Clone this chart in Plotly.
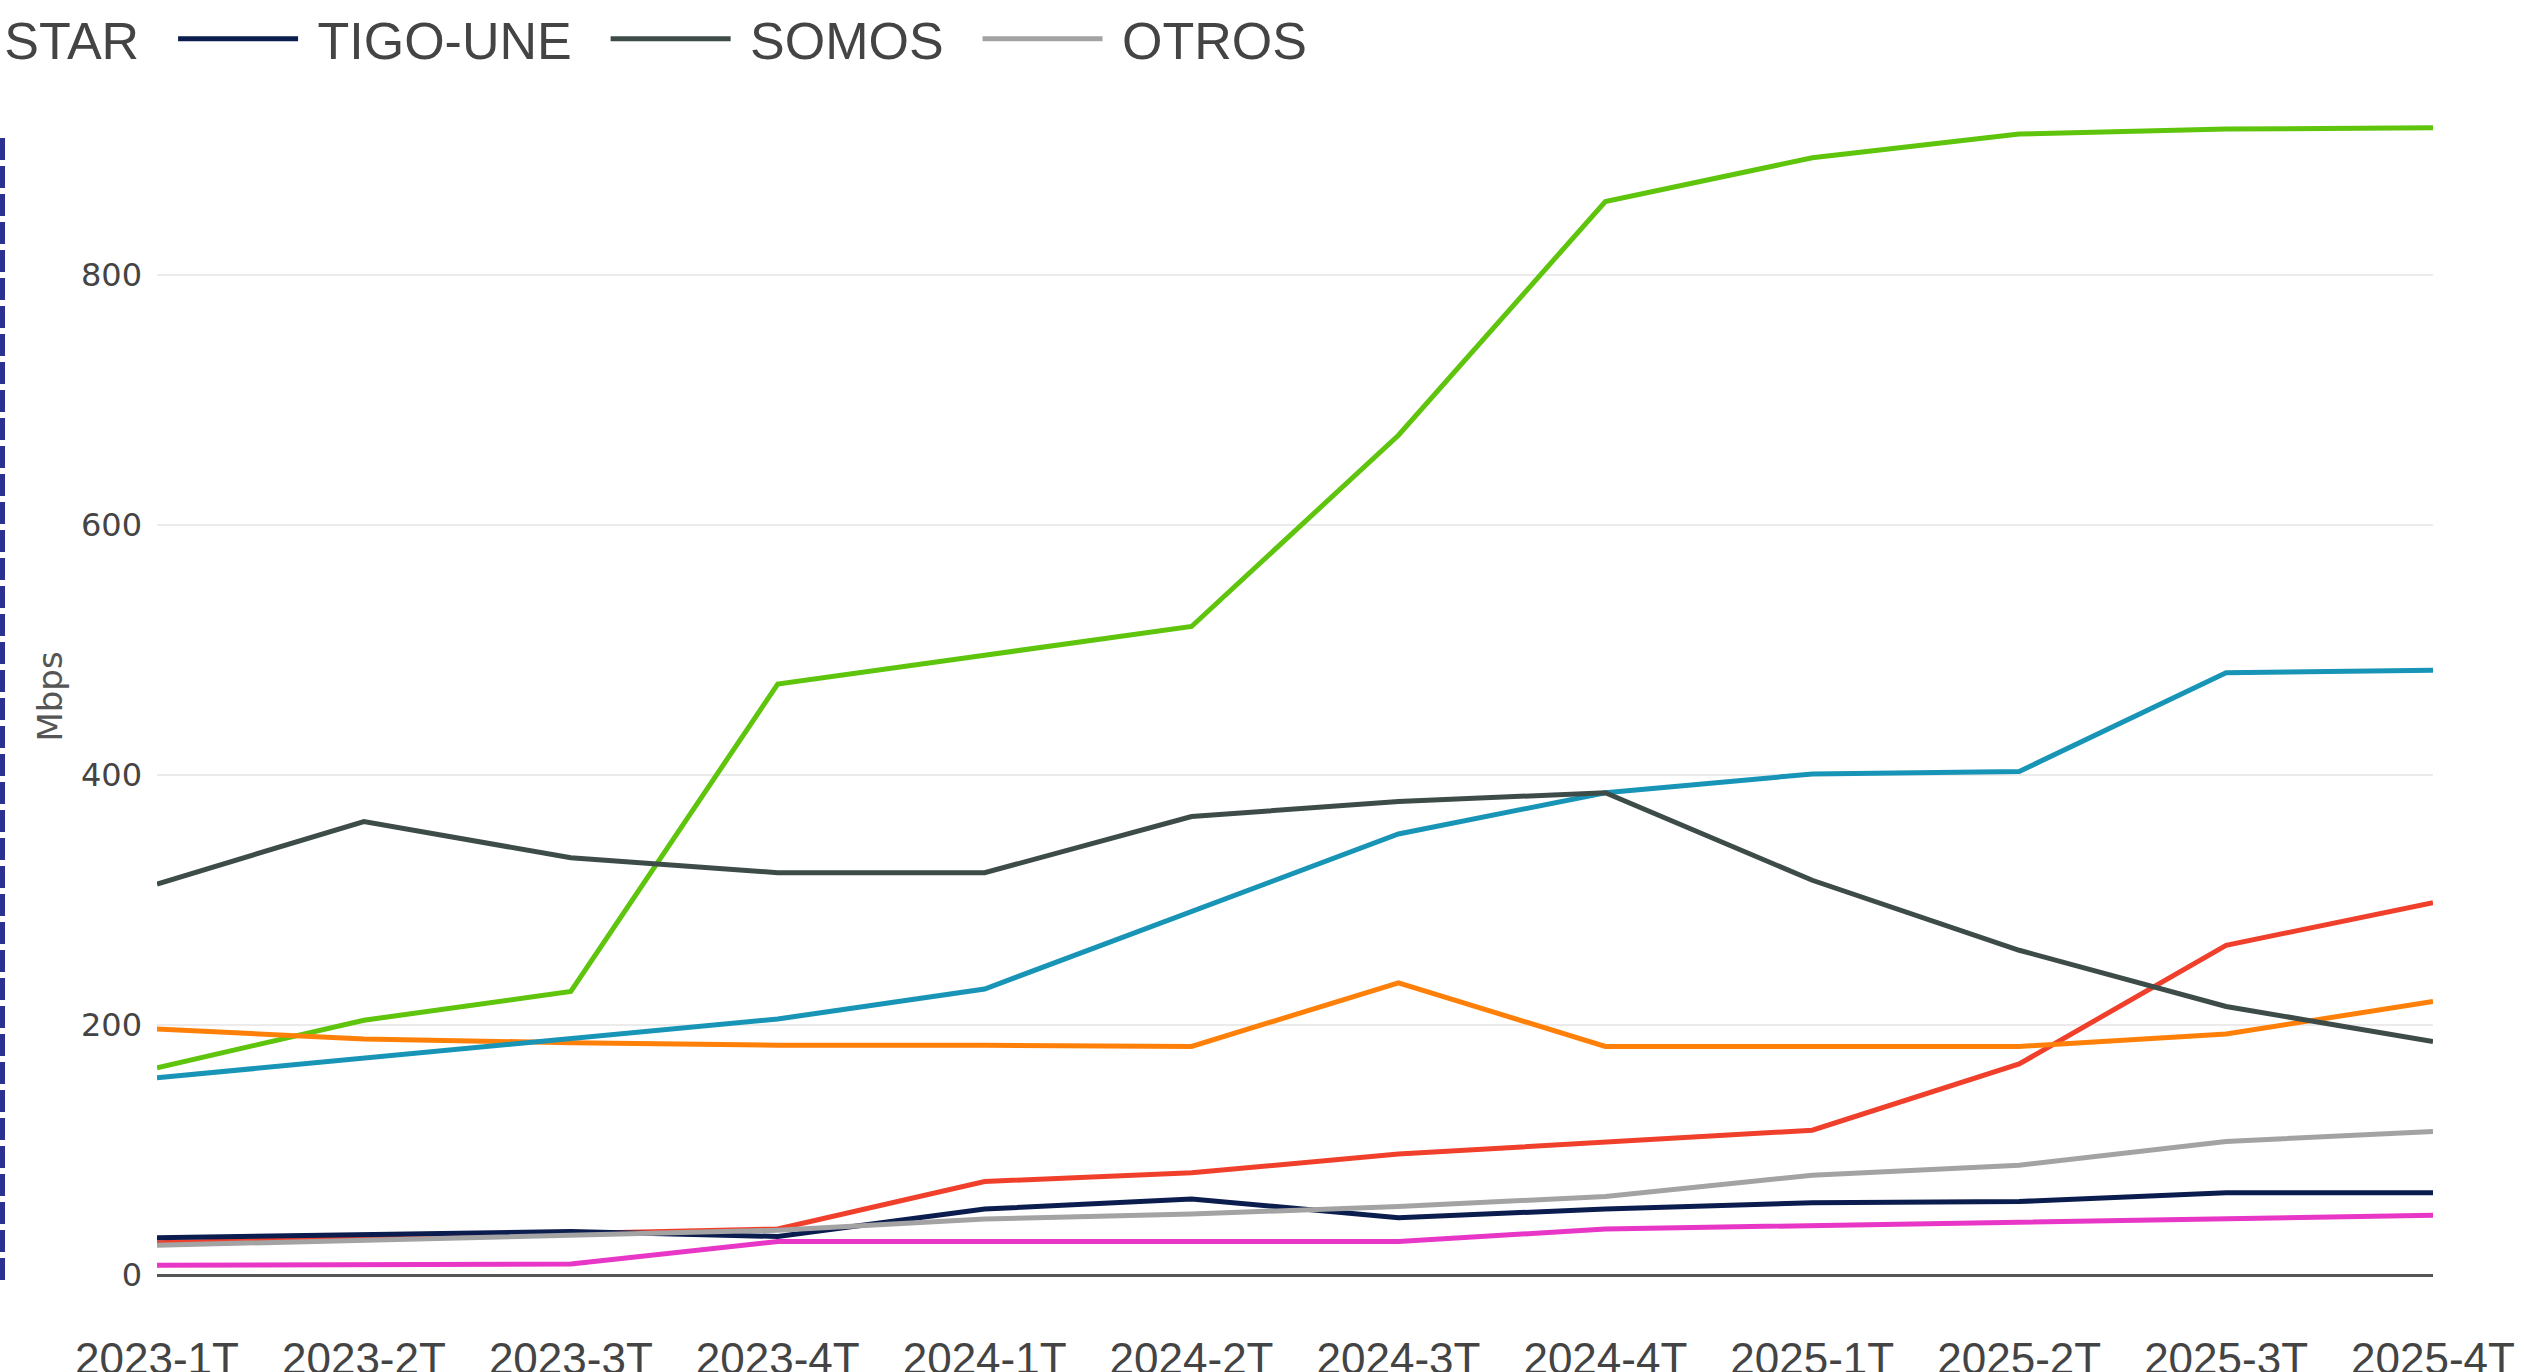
"""
Velocidad de descarga promedio por proveedor (Mbps), 2023-1T a 2025-4T
"""
import plotly.graph_objects as go

trimestres = ['2023-1T', '2023-2T', '2023-3T', '2023-4T', '2024-1T', '2024-2T',
              '2024-3T', '2024-4T', '2025-1T', '2025-2T', '2025-3T', '2025-4T']

claro = [26, 30, 33, 37, 75, 82, 97, 106, 116, 169, 264, 298]
etb = [166, 204, 227, 473, 496, 519, 672, 859, 894, 913, 917, 918]
emcali = [197, 189, 186, 184, 184, 183, 234, 183, 183, 183, 193, 219]
wom = [8, 8, 9, 27, 27, 27, 27, 37, 40, 43, 46, 48]
movistar = [158, 174, 189, 205, 229, 291, 353, 386, 401, 403, 482, 484]
tigo_une = [30, 32, 35, 31, 53, 61, 46, 53, 58, 59, 66, 66]
somos = [313, 363, 334, 322, 322, 367, 379, 386, 316, 260, 215, 187]
otros = [24, 28, 31, 36, 45, 49, 55, 63, 80, 88, 107, 115]

y_ticks = [0, 200, 400, 600, 800]

COLORS = {
    'CLARO': '#f0402c',
    'ETB': '#5fc40c',
    'EMCALI': '#ff8008',
    'WOM': '#e836c6',
    'MOVISTAR': '#1895b6',
    'TIGO-UNE': '#0b1c4e',
    'SOMOS': '#3d4c49',
    'OTROS': '#a3a3a3',
}

# (nombre, valores, visible en la parte recortada de la leyenda)
series = [
    ('CLARO', claro, False),
    ('ETB', etb, False),
    ('EMCALI', emcali, False),
    ('WOM', wom, False),
    ('MOVISTAR', movistar, True),
    ('TIGO-UNE', tigo_une, True),
    ('SOMOS', somos, True),
    ('OTROS', otros, True),
]

W, H = 2524, 1372
M_L, M_R, M_T, M_B = 157, 91, 64, 43
PLOT_W = W - M_L - M_R
PLOT_H = H - M_T - M_B

NBSP = '\u00a0'

fig = go.Figure()

for name, values, in_legend in series:
    fig.add_trace(go.Scatter(
        x=trimestres,
        y=values,
        # espacios duros para separar la muestra del texto en la leyenda
        name=NBSP + name + NBSP * 2,
        mode='lines',
        line=dict(color=COLORS[name], width=5),
        showlegend=in_legend,
    ))

fig.update_layout(
    width=W,
    height=H,
    margin=dict(l=M_L, r=M_R, t=M_T, b=M_B, autoexpand=False),
    paper_bgcolor='white',
    plot_bgcolor='white',
    showlegend=True,
    legend=dict(
        orientation='h',
        x=(-273 - M_L) / PLOT_W,
        xanchor='left',
        y=(PLOT_H + M_T - 39) / PLOT_H,
        yanchor='middle',
        itemwidth=120,
        font=dict(family='Liberation Sans, Arial, sans-serif', size=52, color='#444'),
        bgcolor='rgba(0,0,0,0)',
    ),
    xaxis=dict(
        showgrid=False,
        zeroline=False,
        showline=False,
        ticks='',
        tickfont=dict(family='Liberation Sans, Arial, sans-serif', size=44, color='#444'),
    ),
    yaxis=dict(
        range=[-43, 969],
        tickvals=y_ticks,
        showgrid=True,
        gridcolor='#ebebeb',
        gridwidth=2,
        zeroline=True,
        zerolinecolor='#555',
        zerolinewidth=3,
        ticklabelstandoff=14,
        tickfont=dict(family='DejaVu Sans, Verdana, sans-serif', size=32, color='#444'),
        title=dict(text='Mbps', font=dict(family='DejaVu Sans, Verdana, sans-serif',
                                          size=34, color='#555'), standoff=8),
    ),
)

# borde punteado del contenedor (a la izquierda)
fig.add_shape(
    type='line', xref='paper', yref='paper',
    x0=(2.5 - M_L) / PLOT_W, x1=(2.5 - M_L) / PLOT_W,
    y0=(H - M_B - 1280) / PLOT_H, y1=(H - M_B - 137) / PLOT_H,
    line=dict(color='#2b3190', width=5, dash='22px,6px'),
)

fig.write_html(
    "out.html",
    config={'displayModeBar': False},
    post_script="document.body.style.margin='0';document.body.style.overflow='hidden';",
)
